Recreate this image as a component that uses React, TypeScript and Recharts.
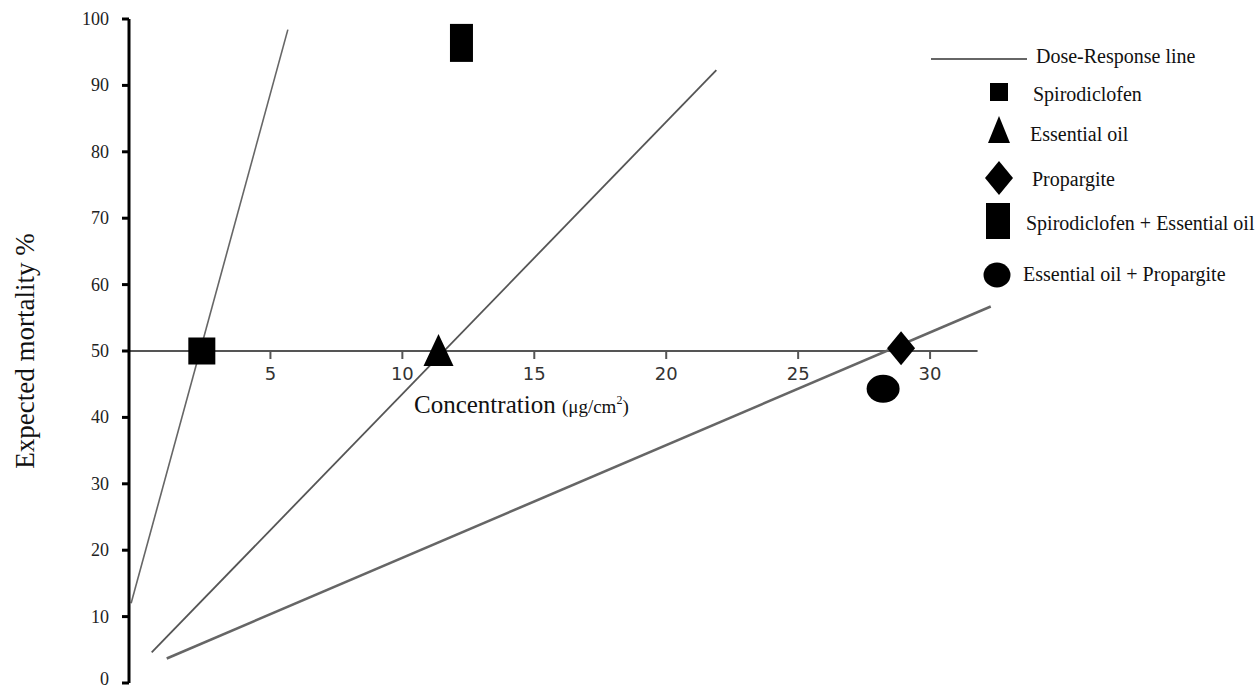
import React from 'react';
import {
  ComposedChart,
  Line,
  Scatter,
  XAxis,
  YAxis,
  ReferenceLine,
  ReferenceDot,
} from 'recharts';

// axis ticks
const yTicks = [0, 10, 20, 30, 40, 50, 60, 70, 80, 90, 100];
const xTicks = [5, 10, 15, 20, 25, 30];

// dose-response lines (concentration, expected mortality %)
const spiroLine = [
  { x: -0.28, y: 12 },
  { x: 5.66, y: 98.4 },
];
const oilLine = [
  { x: 0.5, y: 4.6 },
  { x: 21.9, y: 92.3 },
];
const propLine = [
  { x: 1.07, y: 3.7 },
  { x: 32.3, y: 56.7 },
];

// LC50 points
const spirodiclofen = [{ x: 2.4, y: 50 }];
const essentialOil = [{ x: 11.37, y: 50 }];
const propargite = [{ x: 28.9, y: 50.4 }];
const spiroPlusOil = [{ x: 12.24, y: 96.4 }];
const oilPlusProp = [{ x: 28.22, y: 44.3 }];

const legendLabels = [
  'Dose-Response line',
  'Spirodiclofen',
  'Essential oil',
  'Propargite',
  'Spirodiclofen + Essential oil',
  'Essential oil + Propargite',
];

const SERIF = '"Liberation Serif", "Times New Roman", serif';
const LINE_GREY = '#555';

const SquareMark = (p: any) => (
  <rect x={p.cx - 13.5} y={p.cy - 13.5} width={27} height={27} fill="#000" />
);
const TriangleMark = (p: any) => (
  <polygon
    points={`${p.cx},${p.cy - 17} ${p.cx - 15},${p.cy + 15} ${p.cx + 15},${p.cy + 15}`}
    fill="#000"
  />
);
const DiamondMark = (p: any) => (
  <polygon
    points={`${p.cx},${p.cy - 17} ${p.cx + 14},${p.cy} ${p.cx},${p.cy + 17} ${p.cx - 14},${p.cy}`}
    fill="#000"
  />
);
const TallRectMark = (p: any) => (
  <rect x={p.cx - 11.5} y={p.cy - 19} width={23} height={38} fill="#000" />
);
const EllipseMark = (p: any) => (
  <ellipse cx={p.cx} cy={p.cy} rx={16.5} ry={14} fill="#000" />
);

const xTickShape = (v: number) => (p: any) => (
  <g>
    <line x1={p.cx} y1={p.cy} x2={p.cx} y2={p.cy + 8} stroke={LINE_GREY} strokeWidth={2} />
    <text
      x={p.cx}
      y={p.cy + 29}
      textAnchor="middle"
      fontFamily='"DejaVu Sans", sans-serif'
      fontSize={18}
      fill="#333"
    >
      {v}
    </text>
  </g>
);

const YTick = (p: any) => (
  <text
    x={p.x - 1}
    y={Math.min(p.y + 6, 685)}
    textAnchor="end"
    fontFamily={SERIF}
    fontSize={18}
    fill="#222"
  >
    {p.payload.value}
  </text>
);

const XTitle = (p: any) => {
  const vb = p.viewBox || {};
  return (
    <text x={vb.x + 285} y={vb.y + 62} fontFamily={SERIF} fill="#111">
      <tspan fontSize={25}>Concentration </tspan>
      <tspan fontSize={19}>(μg/cm</tspan>
      <tspan fontSize={12} dy={-9}>2</tspan>
      <tspan fontSize={19} dy={9}>)</tspan>
    </text>
  );
};

const YTitle = (p: any) => {
  const vb = p.viewBox || {};
  const cx = 25;
  const cy = vb.y + vb.height / 2;
  return (
    <text
      x={cx}
      y={cy}
      transform={`rotate(-90, ${cx}, ${cy})`}
      textAnchor="middle"
      dominantBaseline="central"
      fontFamily={SERIF}
      fontSize={27}
      fill="#111"
    >
      Expected mortality %
    </text>
  );
};

function ChartLegend() {
  const tx = [1036, 1033, 1030, 1032, 1026, 1023];
  const ty = [63, 101, 141, 186, 230, 281];
  return (
    <svg
      width={1255}
      height={688}
      style={{ position: 'absolute', left: 0, top: 0, pointerEvents: 'none' }}
    >
      <line x1={931} y1={59} x2={1027} y2={59} stroke="#666" strokeWidth={2} />
      <rect x={990} y={83} width={18} height={18} fill="#000" />
      <polygon points="999,116 988,143 1010,143" fill="#000" />
      <polygon points="999,161 1013,178 999,195 985,178" fill="#000" />
      <rect x={986} y={203} width={24} height={36} fill="#000" />
      <ellipse cx={997} cy={275} rx={13.5} ry={12.5} fill="#000" />
      {legendLabels.map((l, i) => (
        <text key={l} x={tx[i]} y={ty[i]} fontFamily={SERIF} fontSize={20} fill="#111">
          {l}
        </text>
      ))}
    </svg>
  );
}

export default function App() {
  return (
    <div style={{ position: 'absolute', left: 0, top: 0, width: 1255, height: 688, background: '#fff' }}>
      <ComposedChart
        width={1255}
        height={688}
        margin={{ top: 19, right: 255, bottom: 5, left: 0 }}
      >
        <XAxis
          type="number"
          dataKey="x"
          domain={[-0.36, 32.65]}
          allowDataOverflow
          hide
        />
        <YAxis
          type="number"
          domain={[0, 100]}
          ticks={yTicks}
          width={129}
          interval={0}
          axisLine={{ stroke: '#000', strokeWidth: 3 }}
          tickLine={{ stroke: '#000', strokeWidth: 3 }}
          tickSize={7}
          tickMargin={12}
          tick={<YTick />}
          label={<YTitle />}
        />
        <ReferenceLine
          segment={[
            { x: -0.36, y: 50 },
            { x: 31.8, y: 50 },
          ]}
          stroke={LINE_GREY}
          strokeWidth={2}
          label={<XTitle />}
        />
        {xTicks.map((v) => (
          <ReferenceDot key={v} x={v} y={50} r={0} shape={xTickShape(v)} />
        ))}
        <Line data={spiroLine} dataKey="y" stroke="#666" strokeWidth={1.6} dot={false} isAnimationActive={false} />
        <Line data={oilLine} dataKey="y" stroke="#555" strokeWidth={1.8} dot={false} isAnimationActive={false} />
        <Line data={propLine} dataKey="y" stroke="#666" strokeWidth={2.6} dot={false} isAnimationActive={false} />
        <Scatter data={spirodiclofen} dataKey="y" shape={SquareMark} isAnimationActive={false} />
        <Scatter data={essentialOil} dataKey="y" shape={TriangleMark} isAnimationActive={false} />
        <Scatter data={propargite} dataKey="y" shape={DiamondMark} isAnimationActive={false} />
        <Scatter data={spiroPlusOil} dataKey="y" shape={TallRectMark} isAnimationActive={false} />
        <Scatter data={oilPlusProp} dataKey="y" shape={EllipseMark} isAnimationActive={false} />
      </ComposedChart>
      <ChartLegend />
    </div>
  );
}
